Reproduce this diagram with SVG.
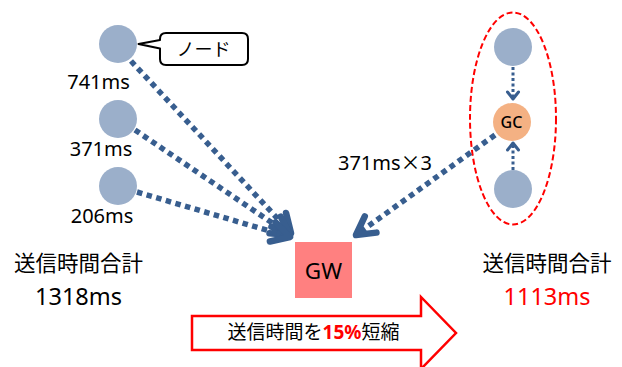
<svg xmlns="http://www.w3.org/2000/svg" width="622" height="367" viewBox="0 0 622 367">
<style>
text{font-family:"Noto Sans CJK JP","Noto Sans",sans-serif;fill:#000;}
.lat{font-family:"Noto Sans","DejaVu Sans",sans-serif;}
.cjk{font-family:"Noto Sans CJK JP",sans-serif;}
.lbl{font-size:20px;text-anchor:middle;}
.ttl{font-size:21.5px;text-anchor:middle;}
.big{font-size:23.5px;text-anchor:middle;}
.node{fill:#9BAFCA;}
.gc{fill:#F4B183;}
.thick{fill:none;stroke:#385E8F;stroke-width:5.5;stroke-dasharray:5.5 4.5;}
.thin{fill:none;stroke:#385E8F;stroke-width:3;stroke-dasharray:3 2.5;}
.red{fill:#FF0000;}
</style>
<defs>
<marker id="head" markerUnits="userSpaceOnUse" markerWidth="30" markerHeight="30" viewBox="-22 -15 30 30" refX="0" refY="0" orient="auto" overflow="visible">
<path d="M -18 -10 L 0 0 L -18 10" fill="none" stroke="#385E8F" stroke-width="6.5" stroke-linejoin="round" stroke-linecap="round"/>
</marker>
<marker id="small" markerUnits="userSpaceOnUse" markerWidth="16" markerHeight="16" viewBox="-12 -8 16 16" refX="0" refY="0" orient="auto" overflow="visible">
<path d="M -7 -5.5 L 0 0 L -7 5.5" fill="none" stroke="#385E8F" stroke-width="3" stroke-linejoin="round" stroke-linecap="round"/>
</marker>
</defs>

<g id="group-ellipse">
<ellipse cx="513" cy="118.5" rx="43" ry="106" fill="none" stroke="#FF0000" stroke-width="2" stroke-dasharray="6 3"/>
</g>

<g id="connectors">
<line class="thick" x1="131" y1="61" x2="291" y2="233" marker-end="url(#head)"/>
<line class="thick" x1="135" y1="130" x2="290" y2="235" marker-end="url(#head)"/>
<line class="thick" x1="137" y1="192" x2="290" y2="237" marker-end="url(#head)"/>
<line class="thick" x1="495" y1="135" x2="356" y2="235" marker-end="url(#head)"/>
<line class="thin" x1="513" y1="67" x2="513" y2="99" marker-end="url(#small)"/>
<line class="thin" x1="513" y1="170" x2="513" y2="143" marker-end="url(#small)"/>
</g>

<g id="node-741">
<circle class="node" cx="118" cy="44" r="19"/>
<text class="lbl lat" x="98.5" y="89">741ms</text>
</g>
<g id="callout">
<path d="M 166 33 H 242 Q 248 33 248 39 V 59 Q 248 65 242 65 H 166 Q 160 65 160 59 V 48.5 L 138.5 44 L 160 40 V 39 Q 160 33 166 33 Z" fill="#fff" stroke="#000" stroke-width="2" stroke-linejoin="round"/>
<text x="203.5" y="56" style="font-size:18px;text-anchor:middle">ノード</text>
</g>
<g id="node-371">
<circle class="node" cx="118" cy="119" r="19"/>
<text class="lbl lat" x="101" y="156">371ms</text>
</g>
<g id="node-206">
<circle class="node" cx="118" cy="186" r="19"/>
<text class="lbl lat" x="102" y="222.5">206ms</text>
</g>

<g id="node-top">
<circle class="node" cx="513" cy="47" r="19"/>
</g>
<g id="node-gc">
<circle class="gc" cx="512" cy="122" r="19"/>
<text class="lat" x="511.5" y="128" style="font-size:16px;text-anchor:middle;font-weight:500">GC</text>
</g>
<g id="node-bottom">
<circle class="node" cx="513" cy="189" r="19"/>
</g>
<g id="label-371x3">
<text class="lbl lat" x="385" y="170">371ms<tspan class="cjk">×</tspan>3</text>
</g>

<g id="node-gw">
<rect x="295" y="242" width="57" height="56" fill="#FF8080"/>
<text class="lat" x="323.5" y="279" style="font-size:22.5px;text-anchor:middle">GW</text>
</g>

<g id="total-left">
<text class="ttl" x="78.5" y="271">送信時間合計</text>
<text class="big lat" x="78.5" y="305">1318ms</text>
</g>
<g id="total-right">
<text class="ttl" x="547" y="271">送信時間合計</text>
<text class="big lat red" x="547" y="305">1113ms</text>
</g>

<g id="reduction-arrow">
<path d="M 192 316 H 421 V 297 L 456 333 L 421 369 V 350 H 192 Z" fill="#fff" stroke="#FF0000" stroke-width="2.5"/>
<text x="313.5" y="339" style="font-size:19px;text-anchor:middle">送信時間を<tspan class="red lat" style="font-weight:bold">15%</tspan>短縮</text>
</g>
</svg>
